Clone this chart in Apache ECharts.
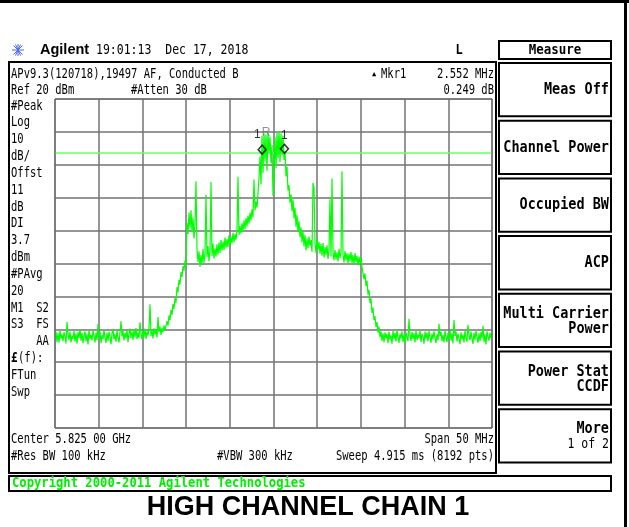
<!DOCTYPE html>
<html>
<head>
<meta charset="utf-8">
<script src="https://cdn.jsdelivr.net/npm/echarts@6/dist/echarts.min.js"></script>
<style>
html, body { margin: 0; padding: 0; background: #fff; }
#chart { width: 629px; height: 527px; }
</style>
</head>
<body>
<div id="chart"></div>
<script>
// sweep settings
const startMHz = 5800;
const stopMHz = 5850;
const refLevel = 20;
const bottomLevel = -80;
const displayLine = 3.7;

// trace in dBm, one reading per display column, left to right
const floorLeft = [
  -52.5, -50.8, -53.9, -51.2, -54.1, -50.4, -52.8, -51.5, -53.6, -50.9,
  -52.2, -54.3, -47.8, -51.6, -53.2, -50.7, -54.0, -51.9, -52.9, -50.5,
  -53.8, -51.3, -54.4, -50.8, -52.6, -49.9, -53.5, -51.0, -54.2, -52.0,
  -50.6, -53.7, -51.4, -54.6, -50.2, -52.9, -51.7, -53.4, -50.3, -52.1,
  -54.0, -51.1, -53.3, -48.4, -52.5, -50.6, -54.2, -51.8, -53.0, -50.1,
  -52.7, -54.1, -51.0, -53.6, -50.8, -52.3, -54.5, -51.2, -49.9, -53.1,
  -51.5, -53.8, -50.4, -52.6, -54.0, -50.9, -47.6, -52.2, -50.5, -53.4,
  -51.0, -52.8, -50.2, -53.9, -51.3, -49.8, -52.6, -50.7, -53.2, -50.0,
  -52.4, -49.6, -53.0, -51.1, -52.7, -47.9, -51.4, -53.1, -50.2, -52.5,
  -49.8, -52.9, -50.6, -51.9, -49.5, -42.4, -52.0, -50.3, -52.8, -49.7,
  -51.6, -50.1, -52.4, -46.3, -50.8, -49.2, -51.7, -49.6, -50.9, -48.8, -50.2
];
const riseLeft = [
  -49.0, -47.5, -48.9, -45.8, -47.2, -44.1, -45.6, -42.3, -43.8, -40.5,
  -41.9, -37.2, -38.8, -35.0, -36.4, -32.6, -34.1, -30.8, -32.2, -29.1, -30.5
];
const shoulderLeft = [
  -17.6, -21.0, -14.5, -19.2, -13.8, -20.5, -16.0, -22.4, -18.3, -5.0,
  -25.8, -29.5, -26.3, -31.0, -27.4, -30.2, -25.6, -29.8, -26.9, -9.1,
  -28.0, -24.7, -29.3, -26.1, -5.2, -27.7, -23.9, -28.5, -25.4, -27.9,
  -24.2, -27.3, -23.6, -26.8, -22.9, -26.0, -23.3, -25.9, -22.1, -25.2,
  -22.6, -25.0, -21.4, -24.3, -21.9, -23.8, -20.7, -23.5, -21.0, -22.8,
  -19.9, -3.6, -21.3, -18.6, -20.9, -17.8, -20.2, -16.9, -19.5, -16.2,
  -18.7, -15.4, -17.9, -14.6, -16.8, -13.5, -15.9, -4.5, -13.9, -11.2,
  -13.0, -8.4, -4.0
];
const carrier = [
  2.5, -6.0, 8.8, -2.5, 9.6, 1.0, 9.2, -1.8, 9.9, 3.5,
  8.6, 0.5, 6.0, -9.5, -3.0, 8.4, -1.0, 9.7, 2.0, 10.1,
  0.8, 9.5, 3.0, 8.9, 1.5, 4.2, -3.5, -0.5, -7.8, -6.2,
  -11.5, -9.0, -14.2
];
const shoulderRight = [
  -10.5, -16.3, -13.0, -18.9, -15.2, -20.4, -17.1, -22.0,
  -19.0, -23.5, -20.2, -24.8, -21.3, -26.0, -22.4, -25.3, -21.8, -24.6,
  -22.9, -26.4, -5.5, -7.0, -23.7, -26.9, -22.5, -25.8, -23.4, -27.0,
  -24.1, -27.6, -23.8, -28.2, -25.0, -27.4, -24.5, -28.6, -25.7, -10.5,
  -27.9, -4.2, -26.3, -29.0, -25.9, -28.8, -26.6, -29.4, -25.5, -28.3,
  -26.8, -2.0, -27.2, -29.7, -26.2, -29.1, -26.9, -30.0, -27.0, -29.3,
  -26.5, -29.8, -27.4, -30.3, -26.8, -29.5, -27.7, -30.6, -27.9, -30.1, -28.3, -31.0
];
const fallRight = [
  -31.5, -34.8, -33.0, -36.9, -35.2, -39.5, -38.0, -42.1, -40.6, -45.0,
  -43.4, -47.2, -46.0, -49.3, -47.8, -51.0, -49.2, -52.4
];
const floorRight = [
  -50.6, -53.5, -51.2, -54.0, -50.9, -52.7, -51.4, -54.2, -50.7, -53.1,
  -51.8, -54.4, -50.5, -52.9, -51.1, -53.8, -50.2, -52.6, -54.1, -51.3,
  -52.8, -50.6, -53.9, -51.5, -54.3, -50.9, -52.4, -53.6, -46.8, -51.7,
  -53.5, -50.8, -52.9, -51.2, -54.0, -50.4, -53.2, -51.6, -52.7, -50.3,
  -53.9, -51.4, -52.3, -54.4, -50.7, -52.8, -51.0, -53.7, -50.5, -52.4,
  -54.1, -51.3, -53.0, -50.6, -52.6, -54.2, -51.5, -53.4, -48.3, -52.1,
  -50.8, -53.6, -51.7, -54.0, -50.4, -52.5, -53.9, -51.1, -52.8, -50.2,
  -53.5, -51.4, -54.3, -47.2, -52.0, -50.6, -53.7, -51.3, -52.9, -54.5,
  -50.9, -53.1, -51.6, -54.0, -50.3, -52.7, -53.8, -48.6, -51.8, -53.3,
  -50.7, -52.9, -54.4, -51.0, -53.2, -50.5, -52.4, -54.1, -51.2, -53.6,
  -50.8, -52.6, -48.9, -53.9, -51.5, -54.6, -50.6, -52.3, -53.4, -51.0,
  -52.7, -50.9
];

// delta marker pair
const markerFreqs = [5823.70, 5826.252];
const markerLevels = [4.6, 4.85];
const markerNames = ['1R', '1'];

// screen annotations
const leftNotes = ['#Peak', 'Log', '10', 'dB/', 'Offst', '11', 'dB', 'DI', '3.7', 'dBm',
  '#PAvg', '20', 'M1  S2', 'S3  FS', '    AA', '£(f):', 'FTun', 'Swp'];
const softkeys = [['Meas Off'], ['Channel Power'], ['Occupied BW'], ['ACP'],
  ['Multi Carrier', 'Power'], ['Power Stat', 'CCDF'], ['More', '1 of 2']];

const levels = [].concat(floorLeft, riseLeft, shoulderLeft, carrier, shoulderRight, fallRight, floorRight);
const step = (stopMHz - startMHz) / (levels.length - 1);
const trace = levels.map((v, i) => [startMHz + i * step, v]);

const MONO = '"DejaVu Sans Mono", monospace';

function txt(x, y, s, opt, sy) {
  return {
    type: 'text', x: x, y: y, scaleY: sy || 1.3, silent: true, z: 20,
    style: Object.assign({
      text: s, font: '10.5px ' + MONO, fill: '#000',
      textAlign: 'left', textVerticalAlign: 'middle'
    }, opt || {})
  };
}
function box(x, y, w, h, lw) {
  return {
    type: 'rect', silent: true, z: 15,
    shape: { x: x, y: y, width: w, height: h },
    style: { fill: 'none', stroke: '#000', lineWidth: lw || 2 }
  };
}

const graphics = [];
// outer frame
graphics.push({ type: 'rect', silent: true, shape: { x: 0, y: 0, width: 629, height: 3 }, style: { fill: '#000' } });
graphics.push({ type: 'rect', silent: true, shape: { x: 624, y: 0, width: 3, height: 527 }, style: { fill: '#000' } });

// header
const star = [[0, -6, 0, 6], [-6, 0, 6, 0], [-4.5, -4.5, 4.5, 4.5], [-4.5, 4.5, 4.5, -4.5],
  [-2.5, -5.5, 2.5, 5.5], [2.5, -5.5, -2.5, 5.5]];
star.forEach(s => graphics.push({
  type: 'line', silent: true, x: 18, y: 50,
  shape: { x1: s[0], y1: s[1], x2: s[2], y2: s[3] },
  style: { stroke: '#4a6ae8', lineWidth: 1 }
}));
graphics.push(txt(40, 50, 'Agilent', { font: 'bold 14.5px "Liberation Sans"' }, 1));
graphics.push(txt(96, 50, '19:01:13  Dec 17, 2018', { font: '11.5px ' + MONO }, 1.2));
graphics.push(txt(459, 50, 'L', { font: 'bold 12px ' + MONO, textAlign: 'center' }, 1.2));

// instrument panel
graphics.push(box(9, 62, 487, 411, 2));
graphics.push(txt(11, 74, 'APv9.3(120718),19497 AF, Conducted B'));
graphics.push(txt(374, 74, '▲', { font: '7px ' + MONO, textAlign: 'center' }, 1));
graphics.push(txt(381, 74, 'Mkr1'));
graphics.push(txt(494, 74, '2.552 MHz', { textAlign: 'right' }));
graphics.push(txt(11, 90, 'Ref 20 dBm'));
graphics.push(txt(131, 90, '#Atten 30 dB'));
graphics.push(txt(494, 90, '0.249 dB', { textAlign: 'right' }));
leftNotes.forEach((s, i) => {
  const y = 106 + i * 16.84;
  if (s.startsWith('£')) {
    graphics.push(txt(11, y, '£', { font: 'bold 11px ' + MONO }));
    graphics.push(txt(18, y, s.slice(1)));
  } else {
    graphics.push(txt(11, y, s));
  }
});
graphics.push(txt(11, 439, 'Center 5.825 00 GHz'));
graphics.push(txt(494, 439, 'Span 50 MHz', { textAlign: 'right' }));
graphics.push(txt(11, 456, '#Res BW 100 kHz'));
graphics.push(txt(217, 456, '#VBW 300 kHz'));
graphics.push(txt(494, 456, 'Sweep 4.915 ms (8192 pts)', { textAlign: 'right' }));
// graticule border
graphics.push({
  type: 'rect', silent: true, z: 15,
  shape: { x: 55, y: 99, width: 437, height: 329 },
  style: { fill: 'none', stroke: '#666', lineWidth: 1 }
});

// softkey menu
graphics.push(box(499, 41, 112, 18, 2));
graphics.push(txt(555, 50, 'Measure', { font: 'bold 12.5px ' + MONO, textAlign: 'center' }, 1.15));
softkeys.forEach((k, i) => {
  const top = 63 + i * 57.7;
  graphics.push(box(499, top, 112, 53.3, 2));
  const bold = 'bold 13.5px ' + MONO;
  if (k.length === 1) {
    graphics.push(txt(609, top + 27, k[0], { font: bold, textAlign: 'right' }, 1.15));
  } else {
    const second = i === 6 ? '11.5px ' + MONO : bold;
    graphics.push(txt(609, top + 20, k[0], { font: bold, textAlign: 'right' }, 1.15));
    graphics.push(txt(609, top + 35, k[1], { font: second, textAlign: 'right' }, 1.15));
  }
});

// copyright strip and caption
graphics.push(box(9, 476, 602, 15, 2));
graphics.push(txt(12, 483.5, 'Copyright 2000-2011 Agilent Technologies', { font: 'bold 12.2px ' + MONO, fill: '#00ee00' }, 1.1));
graphics.push(txt(308, 508, 'HIGH CHANNEL CHAIN 1', { font: 'bold 27px "Liberation Sans"', textAlign: 'center' }, 1));

const chart = echarts.init(document.getElementById('chart'), null, { renderer: 'canvas' });
chart.setOption({
  animation: false,
  backgroundColor: '#fff',
  grid: { left: 55, top: 99, width: 437, height: 329, containLabel: false },
  xAxis: {
    type: 'value', min: startMHz, max: stopMHz, interval: 5,
    axisLine: { show: false }, axisTick: { show: false }, axisLabel: { show: false },
    splitLine: { show: true, lineStyle: { color: '#737373', width: 1.5 } }
  },
  yAxis: {
    type: 'value', min: bottomLevel, max: refLevel, interval: 10,
    axisLine: { show: false }, axisTick: { show: false }, axisLabel: { show: false },
    splitLine: { show: true, lineStyle: { color: '#737373', width: 1.5 } }
  },
  series: [
    {
      type: 'line',
      data: trace,
      showSymbol: false,
      clip: true,
      lineStyle: { color: '#00ff00', width: 1.2 },
      z: 5,
      markLine: {
        silent: true, symbol: 'none', label: { show: false },
        lineStyle: { color: '#66ff66', width: 1.5, type: 'solid' },
        data: [{ yAxis: displayLine }]
      }
    },
    {
      type: 'scatter',
      data: markerFreqs.map((f, i) => ({ value: [f, markerLevels[i]], name: markerNames[i] })),
      symbol: 'diamond',
      symbolSize: [8, 9],
      z: 10,
      itemStyle: { color: 'rgba(0,0,0,0)', borderColor: '#000', borderWidth: 1.5 },
      label: {
        show: true, position: 'top', distance: 2,
        formatter: p => p.name === '1R' ? '{a|1}{b|R}' : '{a|1}',
        rich: {
          a: { font: '10.5px ' + MONO, color: '#000' },
          b: { font: '8px ' + MONO, color: '#777', padding: [0, 0, 4, 1] }
        }
      }
    }
  ],
  graphic: graphics
});
</script>
</body>
</html>
